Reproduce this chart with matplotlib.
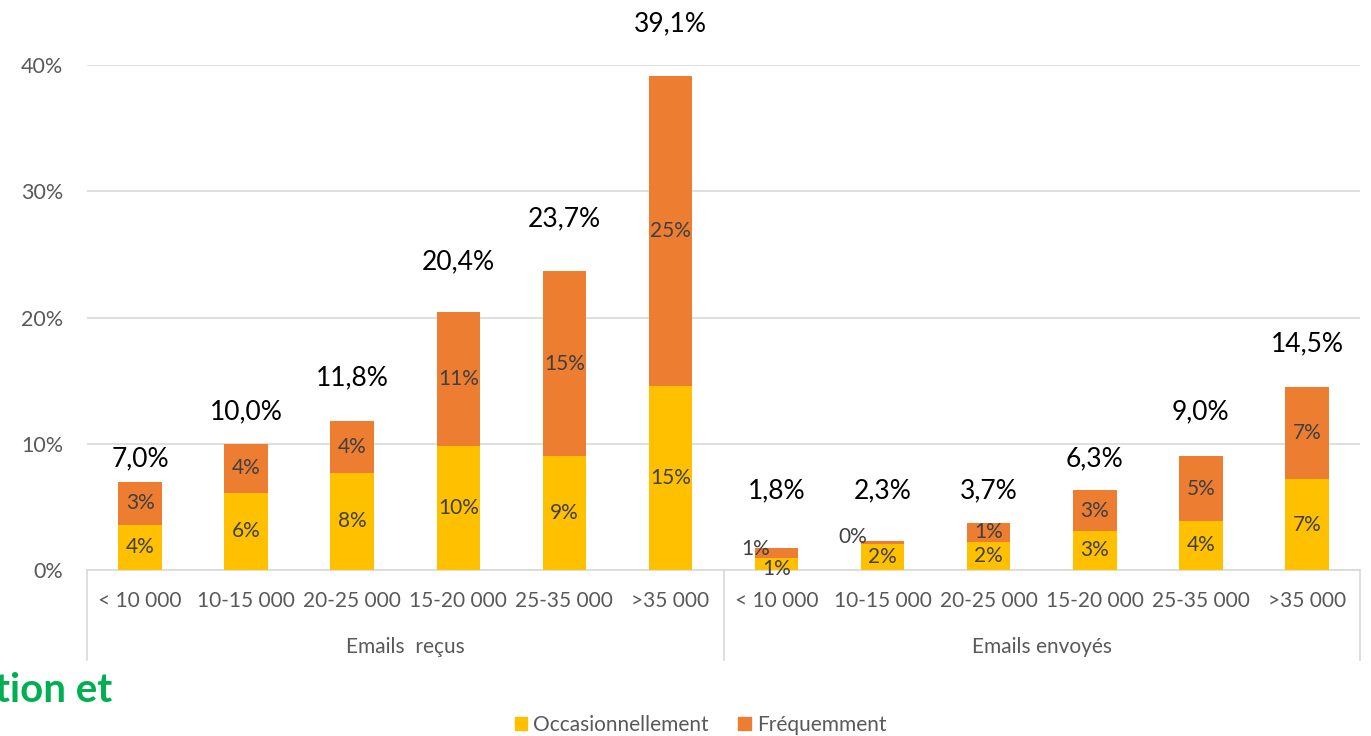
import matplotlib.pyplot as plt
from matplotlib.patches import Patch

plt.rcParams['font.family'] = ['Lato', 'DejaVu Sans']

categories = ["< 10 000", "10-15 000", "20-25 000", "15-20 000", "25-35 000", ">35 000"]
groups = ["Emails  reçus", "Emails envoyés"]

# values in % (received group then sent group)
occasion = [3.6, 6.1, 7.7, 9.8, 9.0, 14.6, 0.93, 2.05, 2.25, 3.1, 3.9, 7.2]
frequent = [3.4, 3.9, 4.1, 10.6, 14.7, 24.5, 0.85, 0.25, 1.45, 3.2, 5.1, 7.3]
totals = [7.0, 10.0, 11.8, 20.4, 23.7, 39.1, 1.8, 2.3, 3.7, 6.3, 9.0, 14.5]

# where Excel put the total labels (data units)
total_label_y = [8.8, 12.5, 15.2, 24.4, 27.8, 43.3, 6.3, 6.3, 6.3, 8.8, 12.5, 17.9]

YELLOW = "#FFC000"
ORANGE = "#ED7D31"
GRID = "#D9D9D9"
TXT = "#595959"
SEG = "#404040"


def pct(v):
    # Excel style rounding (half up)
    return f"{int(v + 0.5)}%"


fig = plt.figure(figsize=(13.71, 7.36), dpi=100)
ax = fig.add_axes([87 / 1371, 166 / 736, 1273 / 1371, 505 / 736])

n = len(totals)
x = list(range(n))
ax.bar(x, occasion, width=0.41, color=YELLOW, zorder=3)
ax.bar(x, frequent, width=0.41, bottom=occasion, color=ORANGE, zorder=3)

ax.set_xlim(-0.5, n - 0.5)
ax.set_ylim(0, 40)
ax.set_yticks([0, 10, 20, 30, 40])
ax.set_yticklabels(["0%", "10%", "20%", "30%", "40%"], fontsize=15.5, color=TXT)
ax.tick_params(axis="y", length=0, pad=17)
ax.set_xticks([])
ax.yaxis.grid(True, color=GRID, linewidth=1.2, zorder=0)
for s in ["top", "right", "left"]:
    ax.spines[s].set_visible(False)
ax.spines["bottom"].set_color(GRID)
ax.spines["bottom"].set_linewidth(1.2)

# segment labels (a few small ones nudged like in the source)
nudge_occ = {6: (0, -0.4)}
nudge_freq = {6: (-0.2, 0.3), 7: (-0.28, 0.45)}
for i in x:
    dx, dy = nudge_occ.get(i, (0, 0))
    ax.text(i + dx, occasion[i] / 2 + dy, pct(occasion[i]), ha="center", va="center",
            fontsize=15, color=SEG, zorder=4)
    dx, dy = nudge_freq.get(i, (0, 0))
    ax.text(i + dx, occasion[i] + frequent[i] / 2 + dy, pct(frequent[i]), ha="center",
            va="center", fontsize=15, color=SEG, zorder=4)
    ax.text(i, total_label_y[i], f"{totals[i]:.1f}%".replace(".", ","), ha="center", va="center",
            fontsize=19, color="black", clip_on=False)

# category and group labels under the axis
trans = ax.get_xaxis_transform()
for i in x:
    ax.text(i, -0.062, categories[i % 6], transform=trans, ha="center", va="center",
            fontsize=15, color=TXT)
for g, name in enumerate(groups):
    ax.text(g * 6 + 2.5, -0.153, name, transform=trans, ha="center", va="center",
            fontsize=15, color=TXT)
for xd in [-0.5, 5.5, 11.5]:
    ax.plot([xd, xd], [0, -0.178], transform=trans, color=GRID, linewidth=1.2, clip_on=False)

handles = [Patch(color=YELLOW, label="Occasionnellement"), Patch(color=ORANGE, label="Fréquemment")]
fig.legend(handles=handles, loc="center", bbox_to_anchor=(0.511, 1 - 725 / 736),
           ncol=2, frameon=False, fontsize=15, labelcolor=TXT, handlelength=0.6,
           handleheight=0.6, handletextpad=0.3, columnspacing=1.4, borderpad=0)

fig.text(-0.004, 1 - 690 / 736, "tion et", fontsize=29, fontweight="bold", color="#00B050",
         ha="left", va="center")

fig.savefig("out.png", dpi=100)
